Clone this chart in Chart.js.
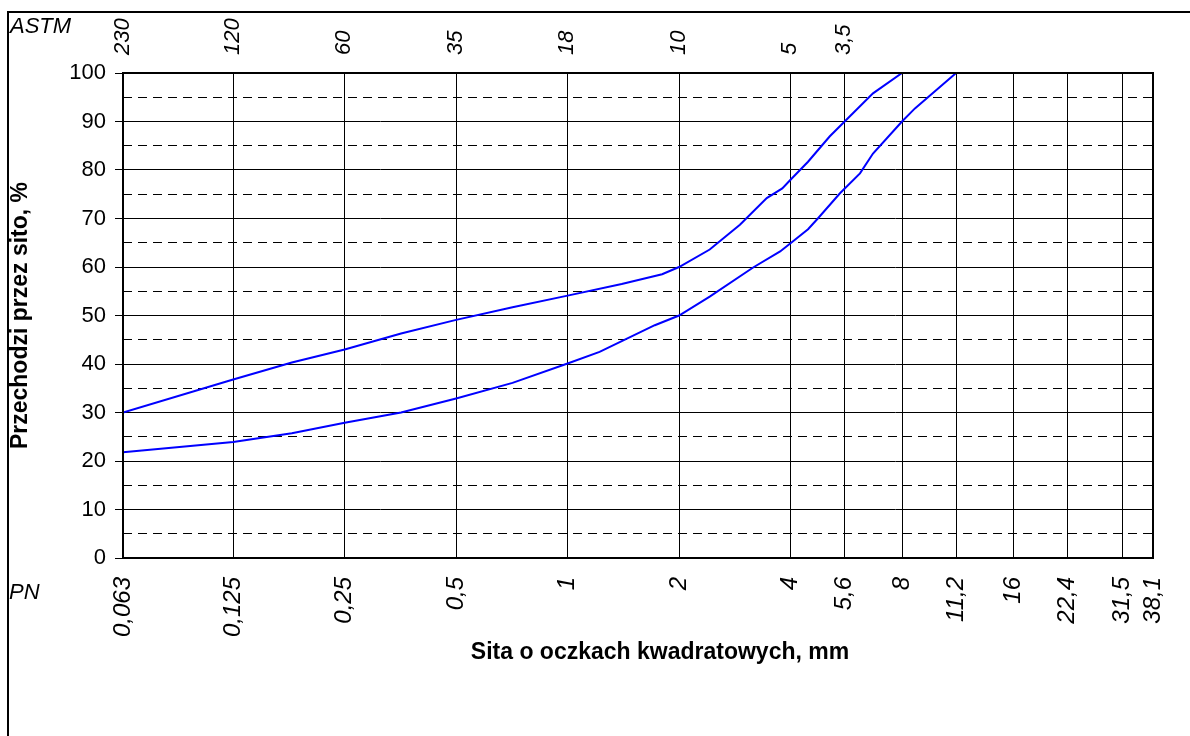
<!DOCTYPE html>
<html>
<head>
<meta charset="utf-8">
<script src="https://cdn.jsdelivr.net/npm/chart.js@4.4.0/dist/chart.umd.min.js"></script>
<style>
  html, body { margin: 0; padding: 0; background: #fff; }
</style>
</head>
<body>
<canvas id="sieveChart" width="1190" height="736"></canvas>
<script>
  // sieve sizes (PN, mm) and their labels
  const pnSizes = [0.063, 0.125, 0.25, 0.5, 1, 2, 4, 5.6, 8, 11.2, 16, 22.4, 31.5, 38.1];
  const pnLabels = ['0,063', '0,125', '0,25', '0,5', '1', '2', '4', '5,6', '8', '11,2', '16', '22,4', '31,5', '38,1'];

  // matching ASTM sieve numbers on the top axis
  const astmSizes = [0.063, 0.125, 0.25, 0.5, 1, 2, 4, 5.6];
  const astmLabels = ['230', '120', '60', '35', '18', '10', '5', '3,5'];

  // upper limit curve
  const upperSizes = [0.063, 0.125, 0.18, 0.25, 0.355, 0.5, 0.71, 1, 1.4, 1.8, 2, 2.42, 2.92, 3.45, 3.8, 4, 4.46, 5.1, 5.6, 6.68, 8];
  const upperPass = [30, 36.8, 40.3, 43.0, 46.3, 49.1, 51.7, 54.1, 56.5, 58.5, 60, 63.6, 68.7, 74.2, 76.2, 78, 81.7, 86.9, 90, 95.8, 100];

  // lower limit curve
  const lowerSizes = [0.063, 0.125, 0.18, 0.25, 0.355, 0.5, 0.71, 1, 1.22, 1.72, 2, 2.42, 3.17, 3.75, 4, 4.46, 4.74, 5.44, 6.16, 6.68, 8, 8.67, 11.2];
  const lowerPass = [21.8, 23.9, 25.7, 27.9, 30.0, 32.9, 36.1, 40.1, 42.5, 48.0, 50, 53.9, 59.9, 63.2, 64.9, 67.8, 70.0, 75.2, 79.3, 83.4, 90, 92.7, 100];

  const FONT = '"Liberation Sans", Arial, sans-serif';
  Chart.defaults.font.family = FONT;
  Chart.defaults.color = '#000';

  const isMinor = c => c.tick && c.tick.value % 10 !== 0;

  // plot frame, outer frame and the loose texts
  const frame = {
    id: 'frame',
    afterDraw(chart) {
      const { ctx, chartArea: a } = chart;
      ctx.save();
      ctx.strokeStyle = '#000';
      ctx.lineWidth = 2;
      ctx.strokeRect(a.left, a.top, a.right - a.left, a.bottom - a.top);
      ctx.beginPath();
      ctx.moveTo(8, 736);
      ctx.lineTo(8, 12);
      ctx.lineTo(1190, 12);
      ctx.stroke();

      ctx.fillStyle = '#000';
      ctx.font = 'italic 22px ' + FONT;
      ctx.fillText('ASTM', 10, 33);
      ctx.fillText('PN', 9, 599);

      ctx.font = 'bold 23px ' + FONT;
      ctx.textAlign = 'center';
      ctx.fillText('Sita o oczkach kwadratowych, mm', 660, 659);
      ctx.restore();
    }
  };

  new Chart(document.getElementById('sieveChart'), {
    type: 'line',
    data: {
      datasets: [
        {
          data: upperSizes.map((x, i) => ({ x, y: upperPass[i] })),
          borderColor: '#0000ff',
          borderWidth: 2,
          pointRadius: 0,
          tension: 0,
          fill: false
        },
        {
          data: lowerSizes.map((x, i) => ({ x, y: lowerPass[i] })),
          borderColor: '#0000ff',
          borderWidth: 2,
          pointRadius: 0,
          tension: 0,
          fill: false
        }
      ]
    },
    options: {
      responsive: false,
      animation: false,
      devicePixelRatio: 1,
      layout: { padding: { left: 2, right: 37, top: 0, bottom: 75 } },
      plugins: { legend: { display: false }, tooltip: { enabled: false } },
      scales: {
        x: {
          type: 'logarithmic',
          position: 'bottom',
          min: 0.063,
          max: 38.1,
          afterBuildTicks: s => { s.ticks = pnSizes.map(v => ({ value: v })); },
          afterFit: s => { s.height = 103; s.paddingLeft = 0; s.paddingRight = 0; },
          ticks: {
            autoSkip: false,
            minRotation: 90,
            maxRotation: 90,
            padding: 19,
            font: { size: 24, style: 'italic' },
            callback: (v, i) => pnLabels[i]
          },
          grid: { color: '#000', lineWidth: 1, drawTicks: false },
          border: { display: false }
        },
        x2: {
          type: 'logarithmic',
          position: 'top',
          min: 0.063,
          max: 38.1,
          afterBuildTicks: s => { s.ticks = astmSizes.map(v => ({ value: v })); },
          afterFit: s => { s.height = 73; s.paddingLeft = 0; s.paddingRight = 0; },
          ticks: {
            autoSkip: false,
            minRotation: 90,
            maxRotation: 90,
            padding: 18,
            labelOffset: 26,
            font: { size: 22, style: 'italic' },
            callback: (v, i) => astmLabels[i]
          },
          grid: { display: false, drawTicks: false },
          border: { display: false }
        },
        y: {
          min: 0,
          max: 100,
          afterFit: s => { s.width = 121; },
          ticks: {
            stepSize: 5,
            autoSkip: false,
            padding: 9,
            font: { size: 22 },
            callback: v => (v % 10 === 0 ? v : '')
          },
          grid: {
            color: '#000',
            lineWidth: 1,
            tickLength: 8,
            tickColor: c => (isMinor(c) ? 'rgba(0,0,0,0)' : '#000')
          },
          border: { display: false, dash: c => (isMinor(c) ? [9, 6] : []) },
          title: {
            display: true,
            text: 'Przechodzi przez sito, %',
            font: { size: 23, weight: 'bold' },
            padding: { top: 5, bottom: 0 }
          }
        }
      }
    },
    plugins: [frame]
  });
</script>
</body>
</html>
